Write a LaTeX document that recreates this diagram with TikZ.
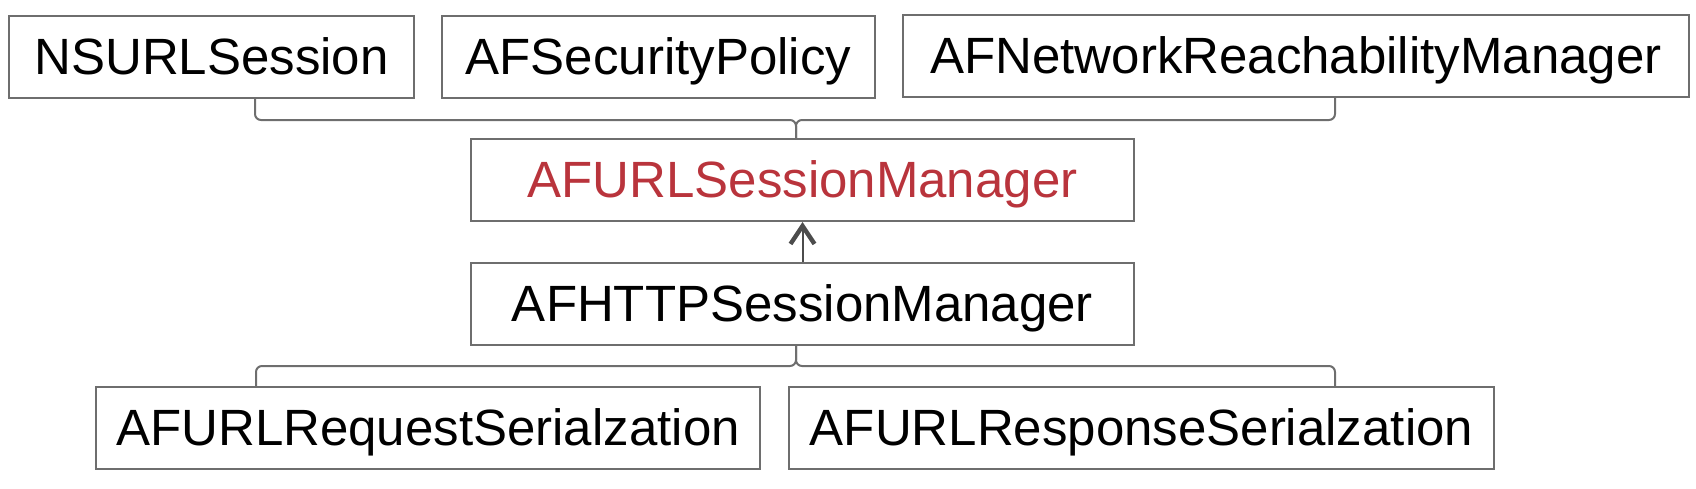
\documentclass[tikz,border=0pt]{standalone}
\usepackage{fontspec}
\setmainfont{Liberation Sans}
\usetikzlibrary{arrows.meta,calc}
\definecolor{boxline}{RGB}{110,110,110}
\definecolor{mgrred}{RGB}{185,52,60}

\tikzset{
    classbox/.style={draw=boxline, line width=1pt, minimum height=41pt, inner sep=0pt,
        text height=17.5pt, text depth=0pt, font=\fontsize{25.5}{30}\selectfont},
    brace/.style={draw=boxline, line width=1pt, rounded corners=3pt},
}

\begin{document}
\begin{tikzpicture}[x=0.5pt, y=-0.5pt]
    \useasboundingbox (0,0) rectangle (1696,488);

    % top row
    \node[classbox, minimum width=202.5pt] (nsurl) at (211.5,56.5) {NSURLSession};
    \node[classbox, minimum width=216.5pt] (secpol) at (658.5,56.5) {AFSecurityPolicy};
    \node[classbox, minimum width=393pt] (reach) at (1296,56) {AFNetworkReachabilityManager};

    % managers
    \node[classbox, minimum width=331.5pt, text=mgrred] (urlmgr) at (802.5,180) {AFURLSessionManager};
    \node[classbox, minimum width=331.5pt] (httpmgr) at (802.5,304) {AFHTTPSessionManager};

    % serializers
    \node[classbox, minimum width=332pt] (reqser) at (428,428) {AFURLRequestSerialzation};
    \node[classbox, minimum width=352.5pt] (resser) at (1141.5,428) {AFURLResponseSerialzation};

    % brace points
    \coordinate (topl) at (255,120);
    \coordinate (topm) at (796,120);
    \coordinate (topr) at (1335,120);
    \coordinate (botl) at (256,366);
    \coordinate (botm) at (796,366);
    \coordinate (botr) at (1335,366);

    \draw[brace] (nsurl.south -| topl) -- (topl) -- (topm) -- (urlmgr.north -| topm);
    \draw[brace] (reach.south -| topr) -- (topr) -- (topm) -- (urlmgr.north -| topm);

    \draw[brace] (httpmgr.south -| botm) -- (botm) -- (botl) -- (reqser.north -| botl);
    \draw[brace] (httpmgr.south -| botm) -- (botm) -- (botr) -- (resser.north -| botr);

    \draw[draw=black!70, line width=1pt,
        -{Straight Barb[length=9pt, width=12pt, line width=2.2pt]}] (httpmgr.north) -- (urlmgr.south);
\end{tikzpicture}
\end{document}
